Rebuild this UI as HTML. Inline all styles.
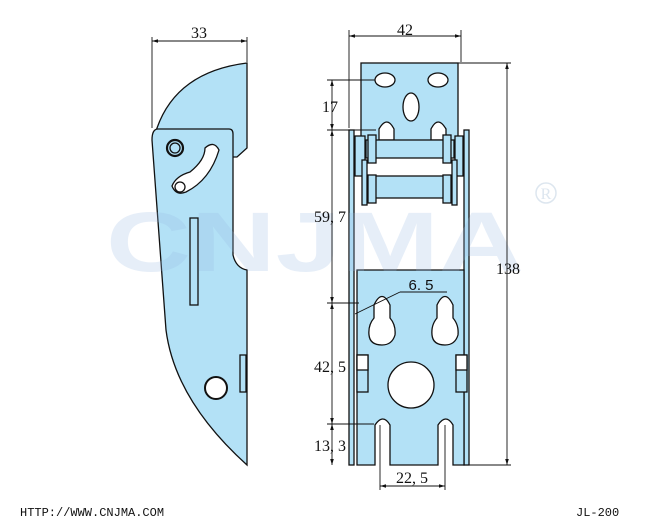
<!DOCTYPE html>
<html><head><meta charset="utf-8"><style>
html,body{margin:0;padding:0;background:#fff;}
svg{display:block;}
</style></head><body>
<svg width="650" height="527" viewBox="0 0 650 527" xmlns="http://www.w3.org/2000/svg" font-family="Liberation Serif, serif">
<defs>
<marker id="a" viewBox="0 0 10 6" refX="10" refY="3" markerWidth="8" markerHeight="4" orient="auto-start-reverse"><path d="M0,0 L10,3 L0,6 Z" fill="#111"/></marker>
</defs>
<g fill="#b3e1f6" stroke="#111" stroke-width="1.3">
<!-- side view -->
<path d="M156,131 Q175,72 247,63 L247,148 L237,157 L233,157 Z"/>
<path d="M158,129 L229,129 Q233,129 233,134 L233,255 Q236,268 247,270 L247,465 Q175,400 166,330 L152,140 Q152,129 158,129 Z"/>
<path d="M205,148 Q214,140 219,150 Q210,180 186,192 Q176,196 172,186 Q176,176 190,172 Q205,160 205,148 Z" fill="#fff"/>
<circle cx="180" cy="187" r="5" fill="#fff"/>
<circle cx="175" cy="148" r="8" stroke-width="2.2"/>
<circle cx="175" cy="148" r="5"/>
<rect x="190" y="218" width="8" height="87"/>
<circle cx="216" cy="388" r="11" fill="#fff" stroke-width="2"/>
<rect x="240" y="355" width="6" height="37"/>
<!-- front view -->
<rect x="361" y="63" width="97" height="78"/>
<ellipse cx="385" cy="80" rx="10" ry="7" fill="#fff"/>
<ellipse cx="438" cy="80" rx="10" ry="7" fill="#fff"/>
<ellipse cx="411" cy="107" rx="8" ry="14" fill="#fff"/>
<path d="M379,140 L379,129 Q387,115 394,129 L394,140 Z" fill="#fff"/>
<path d="M431,140 L431,129 Q438,115 446,129 L446,140 Z" fill="#fff"/>
<rect x="349" y="130" width="5" height="335"/>
<rect x="464" y="130" width="5" height="335"/>
<rect x="366" y="140" width="88" height="18"/>
<rect x="366" y="176" width="88" height="22"/>
<rect x="355" y="136" width="10" height="40"/>
<rect x="368" y="135" width="8" height="28"/>
<rect x="443" y="135" width="8" height="28"/>
<rect x="455" y="136" width="8" height="40"/>
<rect x="368" y="175" width="8" height="28"/>
<rect x="443" y="175" width="8" height="28"/>
<rect x="362" y="160" width="5" height="45"/>
<rect x="452" y="160" width="5" height="45"/>
<path d="M357,270 L464,270 L464,465 L453,465 L453,425 Q446,413 438,425 L438,465 L390,465 L390,425 Q383,413 375,425 L375,465 L357,465 Z"/>
<path d="M374,305 Q382,288 390,305 L390,318 Q396,325 395,335 Q392,345 382,345 Q370,345 369,335 Q368,325 374,318 Z" fill="#fff"/>
<path d="M437,305 Q445,288 453,305 L453,318 Q459,325 458,335 Q455,345 445,345 Q433,345 432,335 Q431,325 437,318 Z" fill="#fff"/>
<circle cx="411" cy="385" r="23" fill="#fff"/>
<rect x="357" y="355" width="11" height="37"/>
<rect x="357" y="355" width="11" height="15" fill="#fff"/>
<rect x="456" y="355" width="11" height="37"/>
<rect x="456" y="355" width="11" height="15" fill="#fff"/>
</g>
<!-- watermark -->
<g font-family="Liberation Sans, sans-serif" font-weight="bold" font-size="84" fill="rgb(150,185,225)" fill-opacity="0.24">
<text x="106" y="271" textLength="418" lengthAdjust="spacingAndGlyphs">CNJMA</text>
</g>
<circle cx="546" cy="193" r="10" fill="none" stroke="#dde6ef" stroke-width="1.5"/>
<text x="546" y="199" font-size="16" fill="#dde6ef" text-anchor="middle">R</text>
<!-- dimension lines -->
<g stroke="#111" stroke-width="0.9" fill="none">
<line x1="152" y1="37" x2="152" y2="128"/><line x1="247" y1="37" x2="247" y2="62"/>
<line x1="152" y1="41" x2="247" y2="41" marker-start="url(#a)" marker-end="url(#a)"/>
<line x1="349" y1="30" x2="349" y2="128"/><line x1="461" y1="30" x2="461" y2="62"/>
<line x1="349" y1="36" x2="461" y2="36" marker-start="url(#a)" marker-end="url(#a)"/>
<line x1="458" y1="63" x2="511" y2="63"/><line x1="469" y1="465" x2="511" y2="465"/>
<line x1="507" y1="63" x2="507" y2="465" marker-start="url(#a)" marker-end="url(#a)"/>
<line x1="327" y1="80" x2="375" y2="80"/><line x1="327" y1="130" x2="376" y2="130"/>
<line x1="327" y1="303" x2="359" y2="303"/><line x1="327" y1="424" x2="374" y2="424"/>
<line x1="332" y1="80" x2="332" y2="130" marker-start="url(#a)" marker-end="url(#a)"/>
<line x1="332" y1="130" x2="332" y2="303" marker-start="url(#a)" marker-end="url(#a)"/>
<line x1="332" y1="303" x2="332" y2="424" marker-start="url(#a)" marker-end="url(#a)"/>
<line x1="332" y1="424" x2="332" y2="465" marker-start="url(#a)" marker-end="url(#a)"/>
<line x1="380" y1="425" x2="380" y2="490"/><line x1="445" y1="425" x2="445" y2="490"/>
<line x1="380" y1="486" x2="445" y2="486" marker-start="url(#a)" marker-end="url(#a)"/>
<line x1="355" y1="314" x2="400" y2="292"/><line x1="400" y1="292" x2="447" y2="292"/>
</g>
<g fill="#111" font-size="16">
<text x="199" y="38" text-anchor="middle">33</text>
<text x="405" y="35" text-anchor="middle">42</text>
<text x="508" y="274" text-anchor="middle">138</text>
<text x="330" y="112" text-anchor="middle">17</text>
<text x="330" y="222" text-anchor="middle">59, 7</text>
<text x="330" y="372" text-anchor="middle">42, 5</text>
<text x="330" y="451" text-anchor="middle">13, 3</text>
<text x="412" y="483" text-anchor="middle">22, 5</text>
<text x="421" y="290" text-anchor="middle" font-family="Liberation Sans, sans-serif" font-size="15">6. 5</text>
</g>
<g font-family="Liberation Mono, monospace" font-size="12" fill="#111">
<text x="20" y="516">HTTP://WWW.CNJMA.COM</text>
<text x="576" y="516">JL-200</text>
</g>
</svg>
</body></html>
